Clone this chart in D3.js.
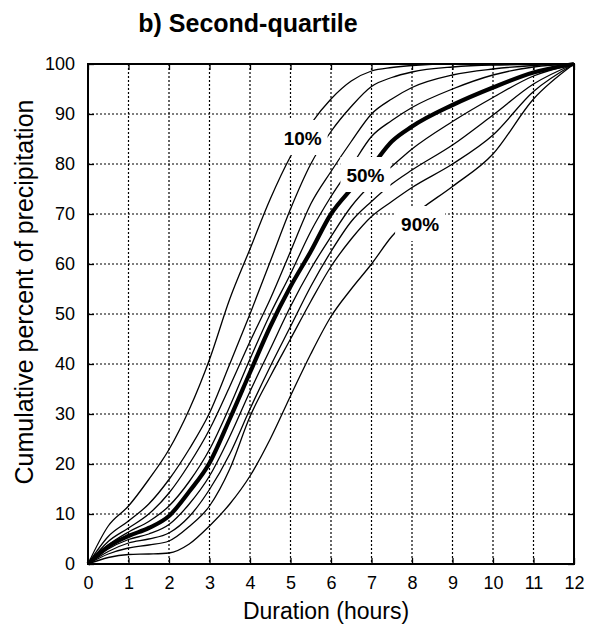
<!DOCTYPE html>
<html>
<head>
<meta charset="utf-8">
<title>b) Second-quartile</title>
<script src="https://cdn.jsdelivr.net/npm/d3@7"></script>
<style>
  body { margin: 0; background: #fff; }
  text { font-family: "Liberation Sans", Arial, sans-serif; fill: #000; }
</style>
</head>
<body>
<script>
// duration in hours, shared by every curve
var hours = [0, 0.5, 1, 1.5, 2, 2.5, 3, 3.5, 4, 4.5, 5, 5.5, 6, 6.5, 7, 7.5, 8, 9, 10, 11, 12];

// cumulative percent of precipitation, one array per percentile curve
var p10 = [0, 7.6, 11.6, 16.9, 22.9, 30.9, 40.9, 53, 63, 73, 81.5, 88, 93, 96.6, 98.6, 99.3, 99.7, 100, 100, 100, 100];
var p20 = [0, 5.5, 8.6, 12, 16.9, 23, 30.2, 40, 50, 60.5, 71, 80, 86.5, 91.5, 95.5, 97.3, 98.4, 99.4, 99.8, 99.9, 100];
var p30 = [0, 4.5, 7.2, 10, 14.2, 20, 26.9, 35.5, 44.5, 53, 62.5, 72, 78.5, 84.5, 90, 93, 95.3, 97.8, 99, 99.7, 100];
var p40 = [0, 3.8, 6.4, 8.5, 11.6, 16.5, 22.9, 31.5, 41, 50, 58, 66.5, 73.5, 79.5, 85.5, 88.7, 91.3, 95, 97.8, 99.4, 100];
var p50 = [0, 3.5, 5.6, 7.2, 9.6, 14.5, 20.2, 29, 38.3, 47.5, 55.5, 62.5, 70, 75, 79.5, 84.5, 87.5, 91.8, 95.3, 98.3, 100];
var p60 = [0, 3, 4.9, 6, 7.9, 12, 17.6, 25.5, 34.5, 43, 51.5, 59, 65.5, 71.5, 76, 79.5, 83, 88.5, 93.3, 97.6, 100];
var p70 = [0, 2.5, 4.2, 5, 6.2, 9.5, 14.9, 22, 31, 39.5, 47.5, 55.5, 62.5, 68.5, 72.5, 76, 78.8, 83.8, 89.8, 96, 100];
var p80 = [0, 2, 3.2, 3.8, 4.6, 7.5, 11.6, 19, 29.5, 37.5, 45, 52.5, 59.5, 65, 69.5, 72.5, 75.3, 80, 85.8, 94.5, 100];
var p90 = [0, 1.3, 1.9, 2, 2.2, 4, 7.6, 12, 17.6, 25, 33.6, 42, 49.5, 55, 60, 65.5, 69.5, 75.5, 82, 93, 100];

var curves = [p10, p20, p30, p40, p50, p60, p70, p80, p90];
var medianIndex = 4;

// curve labels and where they sit (hours, percent)
var labelText = ["10%", "50%", "90%"];
var labelHour = [5.3, 6.85, 8.2];
var labelPct = [85.2, 77.8, 68];

var xTicks = d3.range(0, 13, 1);
var yTicks = d3.range(0, 101, 10);

(function() {
    var width = 598, height = 628;
    var mLeft = 88, mRight = 574, mTop = 64, mBottom = 564;

    var svg = d3.select("body").append("svg")
        .attr("width", width)
        .attr("height", height);

    var x = d3.scaleLinear().domain([0, 12]).range([mLeft, mRight]);
    var y = d3.scaleLinear().domain([0, 100]).range([mBottom, mTop]);

    // dotted grid
    svg.append("g").selectAll("line")
        .data(xTicks.slice(1, -1)).enter().append("line")
        .attr("x1", function(d) { return x(d); }).attr("x2", function(d) { return x(d); })
        .attr("y1", mTop).attr("y2", mBottom)
        .attr("stroke", "#000").attr("stroke-width", 1.2).attr("stroke-dasharray", "2,2");
    svg.append("g").selectAll("line")
        .data(yTicks.slice(1, -1)).enter().append("line")
        .attr("y1", function(d) { return y(d); }).attr("y2", function(d) { return y(d); })
        .attr("x1", mLeft).attr("x2", mRight)
        .attr("stroke", "#000").attr("stroke-width", 1.2).attr("stroke-dasharray", "2,2");

    // curves
    var line = d3.line()
        .x(function(d) { return x(d[0]); })
        .y(function(d) { return y(d[1]); })
        .curve(d3.curveMonotoneX);

    svg.append("g").selectAll("path")
        .data(curves).enter().append("path")
        .attr("d", function(c) { return line(hours.map(function(h, i) { return [h, c[i]]; })); })
        .attr("fill", "none")
        .attr("stroke", "#000")
        .attr("stroke-linejoin", "round")
        .attr("stroke-width", function(c, i) { return i === medianIndex ? 4.2 : 1.3; });

    // axes with inward ticks on all four sides
    var tickLen = 6;
    var axes = svg.append("g");

    axes.append("g").attr("transform", "translate(0," + mBottom + ")")
        .call(d3.axisBottom(x).tickValues(xTicks).tickSize(-tickLen).tickPadding(12).tickFormat(d3.format("d")));
    axes.append("g").attr("transform", "translate(0," + mTop + ")")
        .call(d3.axisTop(x).tickValues(xTicks).tickSize(-tickLen).tickFormat(""));
    axes.append("g").attr("transform", "translate(" + mLeft + ",0)")
        .call(d3.axisLeft(y).tickValues(yTicks).tickSize(-tickLen).tickPadding(13).tickFormat(d3.format("d")));
    axes.append("g").attr("transform", "translate(" + mRight + ",0)")
        .call(d3.axisRight(y).tickValues(yTicks).tickSize(-tickLen).tickFormat(""));

    axes.selectAll(".domain").remove();
    axes.selectAll(".tick line").attr("stroke", "#000").attr("stroke-width", 1.3);
    axes.selectAll(".tick text")
        .attr("font-family", "Liberation Sans, Arial, sans-serif")
        .attr("font-size", 18)
        .attr("fill", "#000");

    svg.append("rect")
        .attr("x", mLeft).attr("y", mTop)
        .attr("width", mRight - mLeft).attr("height", mBottom - mTop)
        .attr("fill", "none").attr("stroke", "#000").attr("stroke-width", 2);

    // curve labels on white boxes
    var lab = svg.append("g").selectAll("g")
        .data(labelText).enter().append("g")
        .attr("transform", function(d, i) { return "translate(" + x(labelHour[i]) + "," + y(labelPct[i]) + ")"; });
    lab.append("rect")
        .attr("x", -25).attr("y", -18).attr("width", 50).attr("height", 35)
        .attr("fill", "#fff");
    lab.append("text")
        .attr("text-anchor", "middle").attr("dy", "0.36em")
        .attr("font-size", 19).attr("font-weight", "bold")
        .text(function(d) { return d; });

    // titles
    svg.append("text")
        .attr("x", 248).attr("y", 32)
        .attr("text-anchor", "middle")
        .attr("font-size", 25).attr("font-weight", "bold")
        .text("b) Second-quartile");

    svg.append("text")
        .attr("x", 326).attr("y", 619)
        .attr("text-anchor", "middle")
        .attr("font-size", 23)
        .text("Duration (hours)");

    svg.append("text")
        .attr("transform", "translate(33,292) rotate(-90)")
        .attr("text-anchor", "middle")
        .attr("font-size", 25)
        .text("Cumulative percent of precipitation");
})();
</script>
</body>
</html>
